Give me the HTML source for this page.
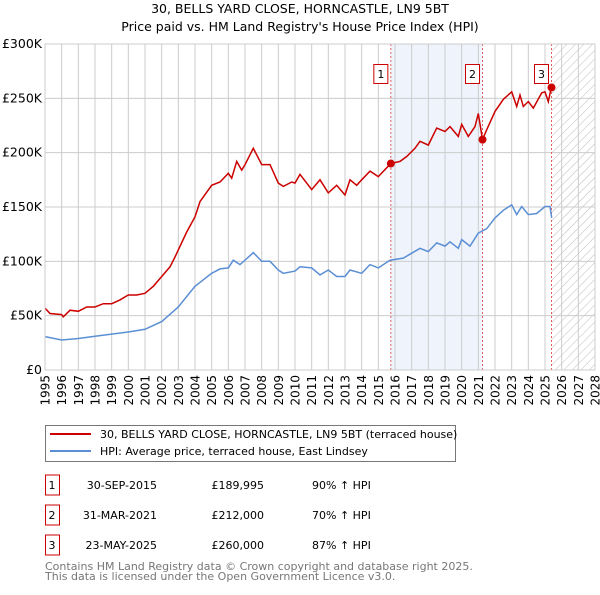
<!DOCTYPE html>
<html><head><meta charset="utf-8"><style>
body{margin:0;background:#fff;font-family:"Liberation Sans","DejaVu Sans",sans-serif}
</style></head><body>
<svg width="600" height="590" xmlns="http://www.w3.org/2000/svg" font-family="DejaVu Sans, Liberation Sans, sans-serif">
<defs><pattern id="hatch" width="6" height="6" patternUnits="userSpaceOnUse" patternTransform="rotate(45)"><line x1="0" y1="0" x2="0" y2="6" stroke="#bbb" stroke-width="1"/></pattern></defs>
<text x="300" y="13" text-anchor="middle" font-size="12.5">30, BELLS YARD CLOSE, HORNCASTLE, LN9 5BT</text>
<text x="300" y="31" text-anchor="middle" font-size="12.5">Price paid vs. HM Land Registry's House Price Index (HPI)</text>
<g id="plot"></g>
<g id="legend">
<rect x="45.5" y="425.5" width="410" height="36" fill="#fff" stroke="#777"/>
<line x1="50" y1="434" x2="91" y2="434" stroke="#cc0000" stroke-width="2"/>
<text x="100" y="438" font-size="11">30, BELLS YARD CLOSE, HORNCASTLE, LN9 5BT (terraced house)</text>
<line x1="50" y1="451" x2="91" y2="451" stroke="#5b8fd4" stroke-width="2"/>
<text x="100" y="455" font-size="11">HPI: Average price, terraced house, East Lindsey</text>
</g>
<g id="table" font-size="11"></g>
<text x="45" y="570" font-size="11" fill="#777">Contains HM Land Registry data © Crown copyright and database right 2025.</text>
<text x="45" y="580" font-size="11" fill="#777">This data is licensed under the Open Government Licence v3.0.</text>
</svg>
<script>
const hpiYears=[1995,1996,1997,1998,1999,2000,2001,2002,2003,2004,2005,2005.5,2006,2006.3,2006.7,2007,2007.5,2008,2008.5,2009,2009.3,2010,2010.3,2011,2011.5,2012,2012.5,2013,2013.3,2014,2014.5,2015,2015.7,2016.5,2017,2017.5,2018,2018.5,2019,2019.3,2019.8,2020,2020.5,2021,2021.5,2022,2022.5,2023,2023.3,2023.6,2024,2024.5,2025,2025.3,2025.4];
const hpiValues=[30.7,27.6,29,31,33,35,37.5,44.5,58,77,89,93,94,101,97,101,108,100,100,92,89,91,95,94,87.5,92,86,86,92,89,97,94,101,103,107.5,112,109,117,114,118,112,120,114,126,130,140,147,152,143,150.5,143,144,150.5,150.5,140];
const priceYears=[1995,1995.3,1996,1996.1,1996.5,1997,1997.5,1998,1998.5,1999,1999.5,2000,2000.5,2001,2001.5,2002,2002.5,2002.8,2003,2003.5,2004,2004.3,2005,2005.5,2006,2006.2,2006.5,2006.8,2007,2007.3,2007.5,2008,2008.5,2009,2009.3,2009.8,2010,2010.3,2010.5,2011,2011.5,2012,2012.5,2013,2013.3,2013.7,2014,2014.5,2015,2015.75,2016.3,2016.7,2017.2,2017.5,2018,2018.5,2019,2019.3,2019.8,2020,2020.4,2020.8,2021,2021.25,2021.5,2022,2022.5,2023,2023.3,2023.5,2023.7,2024,2024.3,2024.8,2025,2025.2,2025.39];
const priceValues=[57,52,51,49,55,54,58,58,61,61,64.5,69,69,70.6,77,86,95,104,110.5,127,141,155,170,173,181,176.5,192,184,189,198,204,189,189,172,169,173,172,180,176,166,175,163,170,161,175,170,175,183,178,190,192,196.5,204,210.5,207,222.6,219.5,224,215,226,215,224,236,212,221,238,249,256,242.5,253,242.5,247,241,255,256,247,261];
const saleNums=["1","2","3"];
const saleYears=[2015.75,2021.25,2025.39];
const salePrices=[189.995,212,260];
const saleDates=["30-SEP-2015","31-MAR-2021","23-MAY-2025"];
const saleLabels=["£189,995","£212,000","£260,000"];
const salePct=["90% ↑ HPI","70% ↑ HPI","87% ↑ HPI"];
const yTicks=[0,50,100,150,200,250,300];
const yTickLabels=["£0","£50K","£100K","£150K","£200K","£250K","£300K"];
const NS="http://www.w3.org/2000/svg";
const X0=45,X1=595,Y0=370,Y1=44,YR0=1995,YR1=2028,VMAX=300;
const xs=y=>X0+(y-YR0)/(YR1-YR0)*(X1-X0);
const ys=v=>Y0-v/VMAX*(Y0-Y1);
const plot=document.getElementById('plot');
function mk(tag,attrs,parent){const e=document.createElementNS(NS,tag);for(const k in attrs)e.setAttribute(k,attrs[k]);(parent||plot).appendChild(e);return e;}
let sh=mk('rect',{x:xs(saleYears[0]),y:Y1,width:xs(saleYears[1])-xs(saleYears[0]),height:Y0-Y1,fill:'#eef3fc'});


let ht=mk('rect',{x:xs(saleYears[2]),y:Y1,width:X1-xs(saleYears[2]),height:Y0-Y1,fill:'url(#hatch)'});


for(let yr=YR0;yr<=YR1;yr++){
  const x=xs(yr);
  const gl=mk('line',{x1:x,y1:Y1,x2:x,y2:Y0,stroke:'#ccc','stroke-width':1});
  
  
  const t=mk('text',{x:0,y:0,'font-size':12,'text-anchor':'end',transform:`translate(${x+4.5},${Y0+5}) rotate(-90)`});
  t.textContent=yr;
  
  
}
yTicks.forEach((v,i)=>{
  const gl=mk('line',{x1:X0,y1:ys(v),x2:X1,y2:ys(v),stroke:'#ccc','stroke-width':1});
  
  
  const t=mk('text',{x:X0-3,y:ys(v)+4,'font-size':12.5,'text-anchor':'end'});
  t.textContent=yTickLabels[i];
  
  
});
saleYears.forEach(y=>{
  const l=mk('line',{x1:xs(y),y1:Y1,x2:xs(y),y2:Y0,stroke:'#e06060','stroke-width':1,'stroke-dasharray':'2,2'});
  
  
});
function pathOf(xa,va){return xa.map((y,i)=>(i?'L':'M')+xs(y).toFixed(1)+','+ys(va[i]).toFixed(1)).join('');}
const hp=mk('path',{d:pathOf(hpiYears,hpiValues),fill:'none',stroke:'#5b8fd4','stroke-width':1.5});


const pp=mk('path',{d:pathOf(priceYears,priceValues),fill:'none',stroke:'#cc0000','stroke-width':1.5});


saleYears.forEach((y,i)=>{
  const c=mk('circle',{cx:xs(y),cy:ys(salePrices[i]),r:4,fill:'#cc0000'});
  
  
  const bx=xs(y)-17;
  const r=mk('rect',{x:bx,y:64.5,width:14,height:19,fill:'#fff',stroke:'#cc0000'});
  
  
  const t=mk('text',{x:bx+7,y:78,'font-size':11,'text-anchor':'middle'});
  t.textContent=saleNums[i];
  
  
});
const fr=mk('rect',{x:X0,y:Y1,width:X1-X0,height:Y0-Y1,fill:'none',stroke:'#ccc'});


const tb=document.getElementById('table');
saleNums.forEach((n,i)=>{
  const cy=485+i*30;
  const r=mk('rect',{x:45.5,y:cy-10,width:14,height:20,fill:'#fff',stroke:'#cc0000'},tb);
  
  
  const cells=[[52,'middle',n],[157,'end',saleDates[i]],[264,'end',saleLabels[i]],[312,'start',salePct[i]]];
  cells.forEach(c=>{
    const t=mk('text',{x:c[0],y:cy+4,'text-anchor':c[1]},tb);
    t.textContent=c[2];
    
    
  });
});
</script>
</body></html>
